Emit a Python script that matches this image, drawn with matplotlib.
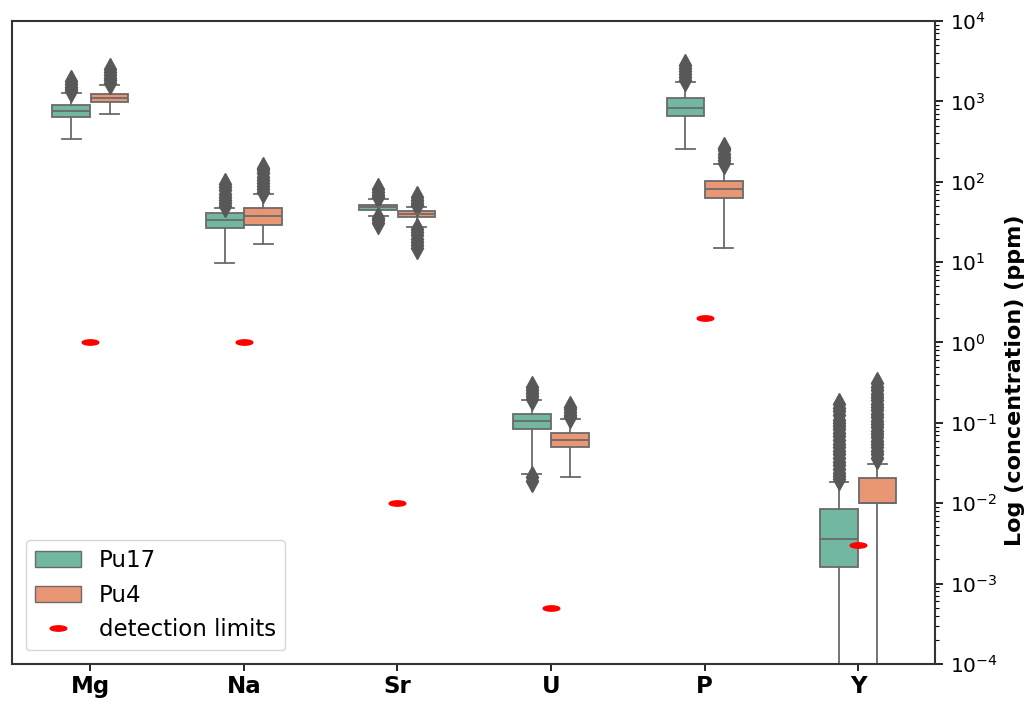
import numpy as np
import matplotlib
matplotlib.use("Agg")
import matplotlib.pyplot as plt
from matplotlib.patches import Patch
from matplotlib.lines import Line2D
from matplotlib.ticker import LogLocator, NullFormatter

elements = ['Mg', 'Na', 'Sr', 'U', 'P', 'Y']
series = ['Pu17', 'Pu4']

# box statistics (ppm)
pu17_q1 = [640, 26.6, 45.0, 0.0842, 658, 0.00162]
pu17_med = [753, 33.8, 48.2, 0.106, 820, 0.00357]
pu17_q3 = [900, 40.9, 51.9, 0.128, 1110, 0.00845]
pu17_lo = [338, 9.7, 37.9, 0.0232, 256, 1e-5]
pu17_hi = [1270, 47.2, 61.1, 0.19, 1760, 0.0186]
pu17_fliers = [
    [1330, 1420, 1520, 1640, 1780],
    [50, 54, 59, 65, 71, 78, 86, 94],
    [64, 69, 75, 82, 35, 33, 31],
    [0.2, 0.215, 0.235, 0.255, 0.28, 0.021, 0.019],
    [1850, 2000, 2180, 2380, 2600, 2850],
    [0.02, 0.022, 0.024, 0.027, 0.03, 0.033, 0.037, 0.041, 0.045, 0.05,
     0.055, 0.061, 0.068, 0.075, 0.083, 0.092, 0.1, 0.11, 0.125, 0.14,
     0.155, 0.17],
]

pu4_q1 = [990, 29.3, 36.2, 0.0499, 62.4, 0.0101]
pu4_med = [1100, 37.9, 39.8, 0.062, 81.3, 0.0101]
pu4_q3 = [1250, 46.8, 43.7, 0.075, 103, 0.0205]
pu4_lo = [697, 16.8, 27.2, 0.0211, 14.9, 1e-5]
pu4_hi = [1600, 70.5, 48.2, 0.112, 165, 0.0309]
pu4_fliers = [
    [1680, 1820, 1980, 2150, 2330, 2520],
    [74, 81, 89, 97, 106, 116, 127, 139, 150],
    [51, 55, 60, 65, 25.5, 23.5, 21.5, 19.5, 17.8, 16.2, 14.8],
    [0.118, 0.127, 0.137, 0.148, 0.158],
    [172, 188, 205, 224, 245, 265],
    [0.037, 0.041, 0.045, 0.05, 0.055, 0.06, 0.066, 0.073, 0.08, 0.088,
     0.097, 0.107, 0.118, 0.13, 0.143, 0.157, 0.173, 0.19, 0.21, 0.23,
     0.255, 0.28, 0.31],
]

detection_limits = [1.0, 1.0, 0.01, 0.0005, 2.0, 0.003]

colors = ['#71b7a1', '#e99675']
line_gray = '#6a6a6a'
flier_gray = '#585858'


def make_stats(q1, med, q3, lo, hi, fl):
    return [dict(q1=a, med=b, q3=c, whislo=d, whishi=e, fliers=f)
            for a, b, c, d, e, f in zip(q1, med, q3, lo, hi, fl)]


stats = [make_stats(pu17_q1, pu17_med, pu17_q3, pu17_lo, pu17_hi, pu17_fliers),
         make_stats(pu4_q1, pu4_med, pu4_q3, pu4_lo, pu4_hi, pu4_fliers)]

fig = plt.figure(figsize=(10.28, 7.04), dpi=100)
ax = fig.add_axes([0.0117, 0.0568, 0.8978, 0.9134])

x = np.arange(len(elements))
offsets = [-0.125, 0.125]
for i in range(2):
    ax.bxp(stats[i], positions=x + offsets[i], widths=0.245, patch_artist=True,
           manage_ticks=False,
           boxprops=dict(facecolor=colors[i], edgecolor=line_gray, linewidth=1.3),
           medianprops=dict(color=line_gray, linewidth=1.3),
           whiskerprops=dict(color=line_gray, linewidth=1.3),
           capprops=dict(color=line_gray, linewidth=1.3),
           flierprops=dict(marker='d', markersize=11, markerfacecolor=flier_gray,
                           markeredgecolor=flier_gray, linestyle='none'))

# ellipse marker for detection limits
t = np.linspace(0, 2 * np.pi, 60)
ell = np.column_stack([np.cos(t), 0.32 * np.sin(t)])
ax.plot(x, detection_limits, linestyle='none', marker=ell, markersize=12,
        color='red', zorder=5)

ax.set_yscale('log')
ax.set_ylim(1e-4, 1e4)
ax.set_xlim(-0.51, 5.5)
ax.yaxis.tick_right()
ax.yaxis.set_label_position('right')
ax.yaxis.set_major_locator(LogLocator(base=10, numticks=20))
ax.yaxis.set_minor_locator(LogLocator(base=10, subs=np.arange(2, 10), numticks=20))
ax.yaxis.set_minor_formatter(NullFormatter())
ax.tick_params(axis='y', which='major', length=6, width=1.2, labelsize=14.5, pad=5)
ax.tick_params(axis='y', which='minor', length=3, width=0.8)
ax.set_xticks(x)
ax.set_xticklabels(elements, fontsize=16.5, fontweight='bold')
ax.tick_params(axis='x', length=5, width=1.2, pad=3)
ax.set_ylabel('Log (concentration) (ppm)', fontsize=16, fontweight='bold')
ax.yaxis.set_label_coords(1.076, 0.442)
for s in ax.spines.values():
    s.set_color('#333333')
    s.set_linewidth(1.5)

handles = [Patch(facecolor=colors[0], edgecolor=line_gray, label='Pu17'),
           Patch(facecolor=colors[1], edgecolor=line_gray, label='Pu4'),
           Line2D([], [], linestyle='none', marker=ell, markersize=12,
                  color='red', label='detection limits')]
ax.legend(handles=handles, loc='lower left', fontsize=16.5, handlelength=2.0,
          borderaxespad=0.6)

fig.savefig('out.png', dpi=100)
